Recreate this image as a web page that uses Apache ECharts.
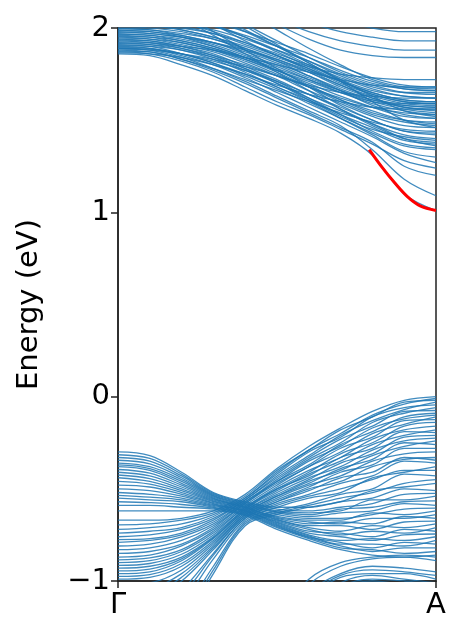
<!DOCTYPE html>
<html><head><meta charset="utf-8">
<script src="https://cdn.jsdelivr.net/npm/echarts@6/dist/echarts.min.js"></script>
<style>html,body{margin:0;padding:0;background:#fff}#c{width:453px;height:623px}</style>
</head><body><div id="c"></div>
<script>
// k-path positions (0 = Γ, 1 = A)
const kPts = [0,0.1,0.2,0.3,0.4,0.5,0.6,0.7,0.8,0.9,1.0];
const kLabels = ['Γ','A'];
const yTicks = [-1,0,1,2];

// conduction bands (eV)
const conductionBands = [
 [1.86,1.85,1.80,1.74,1.66,1.58,1.51,1.43,1.31,1.10,1.01],
 [1.87,1.86,1.82,1.76,1.68,1.60,1.53,1.45,1.37,1.28,1.24],
 [1.88,1.87,1.83,1.77,1.70,1.62,1.54,1.46,1.38,1.25,1.20],
 [1.89,1.88,1.84,1.78,1.71,1.63,1.55,1.47,1.34,1.18,1.09],
 [1.90,1.89,1.85,1.80,1.73,1.65,1.57,1.49,1.41,1.32,1.27],
 [1.91,1.90,1.86,1.81,1.74,1.67,1.59,1.51,1.43,1.36,1.34],
 [1.92,1.91,1.88,1.83,1.76,1.68,1.61,1.53,1.46,1.39,1.37],
 [1.93,1.92,1.89,1.84,1.77,1.70,1.62,1.55,1.48,1.42,1.40],
 [1.94,1.93,1.90,1.86,1.79,1.72,1.64,1.57,1.50,1.44,1.43],
 [1.95,1.94,1.91,1.87,1.81,1.74,1.66,1.59,1.52,1.47,1.46],
 [1.96,1.95,1.92,1.88,1.82,1.75,1.68,1.61,1.55,1.50,1.48],
 [1.97,1.96,1.94,1.90,1.84,1.77,1.70,1.63,1.57,1.52,1.51],
 [1.98,1.97,1.95,1.91,1.85,1.79,1.72,1.65,1.59,1.55,1.53],
 [1.99,1.98,1.96,1.92,1.87,1.81,1.74,1.67,1.61,1.57,1.55],
 [2.00,1.99,1.97,1.94,1.88,1.82,1.76,1.69,1.63,1.59,1.58],
 [2.02,2.01,1.99,1.95,1.90,1.84,1.78,1.71,1.65,1.61,1.60],
 [2.04,2.03,2.00,1.97,1.92,1.86,1.80,1.73,1.67,1.63,1.62],
 [2.06,2.05,2.02,1.99,1.94,1.88,1.82,1.75,1.69,1.65,1.64],
 [2.08,2.07,2.04,2.01,1.96,1.90,1.84,1.77,1.71,1.67,1.66],
 [2.10,2.09,2.06,2.03,1.98,1.92,1.86,1.79,1.73,1.69,1.68],
 [1.865,1.86,1.84,1.80,1.75,1.69,1.64,1.60,1.57,1.56,1.56],
 [1.885,1.88,1.86,1.83,1.79,1.74,1.69,1.65,1.63,1.62,1.62],
 [2.15,2.12,2.05,1.96,1.86,1.76,1.66,1.56,1.47,1.40,1.38],
 [2.20,2.16,2.08,1.98,1.88,1.78,1.68,1.58,1.50,1.44,1.42],
 [1.925,1.92,1.90,1.88,1.84,1.80,1.76,1.72,1.69,1.68,1.68],
 [2.25,2.22,2.16,2.08,1.99,1.90,1.81,1.72,1.63,1.55,1.52],
 [2.30,2.27,2.20,2.11,2.01,1.91,1.81,1.71,1.60,1.50,1.46],
 [1.975,1.97,1.95,1.92,1.88,1.83,1.77,1.71,1.65,1.61,1.60],
 [2.40,2.38,2.33,2.26,2.18,2.10,2.03,1.98,1.95,1.93,1.93],
 [2.35,2.33,2.28,2.21,2.13,2.05,1.98,1.93,1.90,1.88,1.88],
 [2.32,2.30,2.25,2.18,2.10,2.02,1.94,1.88,1.85,1.84,1.84],
 [2.50,2.48,2.43,2.36,2.27,2.18,2.10,2.04,2.00,1.98,1.98],
 [2.18,2.16,2.10,2.02,1.93,1.85,1.79,1.75,1.73,1.72,1.72],
 [1.875,1.87,1.83,1.78,1.72,1.66,1.60,1.54,1.49,1.45,1.44],
 [1.895,1.89,1.86,1.82,1.77,1.71,1.64,1.56,1.48,1.40,1.36],
 [1.905,1.90,1.88,1.84,1.78,1.71,1.62,1.53,1.44,1.37,1.35],
 [1.915,1.91,1.89,1.85,1.80,1.74,1.68,1.62,1.57,1.54,1.53],
 [1.935,1.93,1.90,1.85,1.78,1.70,1.61,1.52,1.45,1.41,1.39],
 [1.945,1.94,1.92,1.88,1.83,1.77,1.71,1.65,1.60,1.58,1.57],
 [1.955,1.95,1.93,1.89,1.83,1.76,1.68,1.60,1.53,1.49,1.47],
 [1.965,1.96,1.93,1.89,1.84,1.78,1.72,1.66,1.61,1.59,1.59],
 [1.985,1.98,1.95,1.90,1.84,1.77,1.69,1.61,1.54,1.50,1.49],
 [1.995,1.99,1.96,1.92,1.86,1.80,1.73,1.66,1.60,1.56,1.54],
 [2.01,2.00,1.98,1.94,1.89,1.83,1.76,1.68,1.62,1.58,1.57],
 [2.03,2.02,1.99,1.95,1.89,1.82,1.74,1.66,1.58,1.53,1.51],
 [2.05,2.04,2.01,1.97,1.91,1.85,1.78,1.70,1.64,1.60,1.59],
 [2.07,2.06,2.03,1.98,1.92,1.85,1.77,1.69,1.62,1.57,1.56],
 [2.12,2.10,2.06,2.01,1.95,1.88,1.80,1.72,1.66,1.63,1.62],
 [2.14,2.12,2.08,2.02,1.95,1.87,1.79,1.71,1.64,1.60,1.59],
 [2.22,2.19,2.13,2.06,1.98,1.90,1.82,1.74,1.68,1.65,1.65],
 [2.28,2.25,2.19,2.11,2.02,1.93,1.84,1.76,1.70,1.67,1.66],
 [2.38,2.35,2.28,2.19,2.09,1.99,1.89,1.80,1.72,1.68,1.67],
 [1.89,1.885,1.86,1.81,1.75,1.68,1.60,1.51,1.42,1.33,1.30]
];

// valence bands rising from Γ towards A
const risingBands = [
 [-0.67,-0.67,-0.66,-0.62,-0.53,-0.39,-0.27,-0.17,-0.08,-0.02,0.00],
 [-0.72,-0.71,-0.69,-0.64,-0.55,-0.41,-0.29,-0.20,-0.10,-0.04,-0.01],
 [-0.76,-0.75,-0.72,-0.66,-0.56,-0.43,-0.32,-0.21,-0.13,-0.07,-0.03],
 [-0.79,-0.78,-0.75,-0.68,-0.57,-0.45,-0.34,-0.25,-0.14,-0.09,-0.06],
 [-0.83,-0.82,-0.78,-0.70,-0.58,-0.46,-0.37,-0.26,-0.19,-0.11,-0.09],
 [-0.87,-0.86,-0.81,-0.72,-0.59,-0.48,-0.38,-0.30,-0.20,-0.15,-0.11],
 [-0.90,-0.89,-0.84,-0.74,-0.60,-0.50,-0.41,-0.31,-0.25,-0.16,-0.14],
 [-0.93,-0.92,-0.87,-0.76,-0.61,-0.51,-0.42,-0.35,-0.26,-0.21,-0.18],
 [-0.96,-0.95,-0.89,-0.77,-0.62,-0.53,-0.45,-0.36,-0.31,-0.22,-0.21],
 [-0.99,-0.98,-0.92,-0.79,-0.63,-0.54,-0.46,-0.40,-0.32,-0.27,-0.24],
 [-1.05,-1.04,-0.96,-0.81,-0.64,-0.56,-0.49,-0.41,-0.37,-0.28,-0.28],
 [-1.12,-1.10,-1.00,-0.83,-0.65,-0.57,-0.50,-0.46,-0.38,-0.34,-0.33],
 [-1.20,-1.17,-1.05,-0.85,-0.66,-0.58,-0.53,-0.47,-0.43,-0.35,-0.36],
 [-1.30,-1.26,-1.12,-0.88,-0.67,-0.60,-0.55,-0.52,-0.44,-0.41,-0.38],
 [-1.40,-1.35,-1.18,-0.92,-0.68,-0.62,-0.58,-0.53,-0.50,-0.42,-0.43],
 [-1.50,-1.44,-1.25,-0.96,-0.70,-0.64,-0.60,-0.57,-0.51,-0.49,-0.47],
 [-0.695,-0.69,-0.67,-0.63,-0.54,-0.40,-0.29,-0.18,-0.11,-0.03,-0.02],
 [-0.74,-0.73,-0.71,-0.65,-0.55,-0.42,-0.30,-0.22,-0.11,-0.06,-0.045],
 [-0.775,-0.77,-0.74,-0.67,-0.56,-0.44,-0.33,-0.23,-0.16,-0.08,-0.075],
 [-0.81,-0.80,-0.76,-0.69,-0.57,-0.46,-0.35,-0.27,-0.17,-0.12,-0.10],
 [-0.85,-0.84,-0.80,-0.71,-0.58,-0.47,-0.38,-0.28,-0.22,-0.13,-0.125],
 [-0.885,-0.875,-0.83,-0.73,-0.60,-0.49,-0.40,-0.33,-0.23,-0.18,-0.16],
 [-0.915,-0.905,-0.855,-0.75,-0.61,-0.50,-0.43,-0.33,-0.28,-0.19,-0.195],
 [-0.945,-0.935,-0.88,-0.765,-0.62,-0.52,-0.44,-0.38,-0.29,-0.24,-0.225],
 [-0.975,-0.965,-0.905,-0.78,-0.63,-0.54,-0.47,-0.39,-0.34,-0.25,-0.26],
 [-1.02,-1.01,-0.94,-0.80,-0.64,-0.55,-0.48,-0.43,-0.35,-0.31,-0.30],
 [-1.08,-1.07,-0.98,-0.82,-0.65,-0.57,-0.51,-0.44,-0.41,-0.33,-0.345],
 [-1.25,-1.21,-1.08,-0.86,-0.66,-0.59,-0.54,-0.50,-0.45,-0.40,-0.40],
 [-1.45,-1.40,-1.22,-0.94,-0.69,-0.63,-0.59,-0.55,-0.52,-0.47,-0.45]
];

// valence bands descending from Γ towards the crossing
const descendingBands = [
 [-0.30,-0.32,-0.41,-0.52,-0.57,-0.60,-0.60,-0.57,-0.55,-0.50,-0.51],
 [-0.33,-0.35,-0.43,-0.53,-0.58,-0.62,-0.63,-0.62,-0.56,-0.56,-0.54],
 [-0.36,-0.38,-0.45,-0.54,-0.59,-0.63,-0.65,-0.63,-0.62,-0.58,-0.59],
 [-0.38,-0.40,-0.47,-0.55,-0.60,-0.65,-0.67,-0.67,-0.63,-0.64,-0.62],
 [-0.41,-0.43,-0.49,-0.56,-0.60,-0.66,-0.69,-0.68,-0.69,-0.65,-0.66],
 [-0.44,-0.46,-0.51,-0.57,-0.61,-0.67,-0.71,-0.73,-0.70,-0.71,-0.69],
 [-0.48,-0.49,-0.53,-0.58,-0.62,-0.68,-0.73,-0.74,-0.76,-0.72,-0.73],
 [-0.52,-0.53,-0.55,-0.59,-0.62,-0.69,-0.75,-0.78,-0.77,-0.78,-0.76],
 [-0.55,-0.56,-0.57,-0.60,-0.63,-0.70,-0.76,-0.79,-0.82,-0.79,-0.80],
 [-0.59,-0.59,-0.60,-0.61,-0.64,-0.71,-0.77,-0.82,-0.83,-0.85,-0.84],
 [-0.315,-0.335,-0.42,-0.525,-0.575,-0.61,-0.62,-0.60,-0.58,-0.53,-0.525],
 [-0.345,-0.365,-0.44,-0.535,-0.585,-0.625,-0.64,-0.61,-0.60,-0.57,-0.565],
 [-0.37,-0.39,-0.46,-0.545,-0.595,-0.64,-0.66,-0.66,-0.64,-0.61,-0.605],
 [-0.395,-0.415,-0.48,-0.555,-0.60,-0.655,-0.68,-0.69,-0.66,-0.66,-0.64],
 [-0.425,-0.445,-0.50,-0.565,-0.605,-0.665,-0.70,-0.70,-0.72,-0.68,-0.675],
 [-0.46,-0.475,-0.52,-0.575,-0.615,-0.675,-0.72,-0.75,-0.73,-0.74,-0.71],
 [-0.50,-0.51,-0.54,-0.585,-0.62,-0.685,-0.74,-0.76,-0.78,-0.75,-0.745],
 [-0.535,-0.545,-0.56,-0.595,-0.625,-0.695,-0.755,-0.80,-0.80,-0.81,-0.78],
 [-0.57,-0.575,-0.585,-0.605,-0.635,-0.705,-0.765,-0.81,-0.84,-0.82,-0.82],
 [-0.62,-0.62,-0.62,-0.62,-0.645,-0.72,-0.78,-0.83,-0.86,-0.87,-0.86]
];

// deeper valence bands entering near A
const lowerBands = [
 [null,null,null,null,null,-1.25,-1.02,-0.92,-0.88,-0.87,-0.89],
 [null,null,null,null,null,-1.28,-1.06,-0.96,-0.92,-0.93,-0.95],
 [null,null,null,null,null,-1.32,-1.10,-0.98,-0.96,-0.96,-0.99],
 [null,null,null,null,null,-1.36,-1.14,-1.01,-0.97,-0.99,-1.01],
 [null,null,null,null,null,-1.40,-1.18,-1.04,-1.00,-1.02,-1.04],
 [null,null,null,null,null,-1.22,-0.99,-0.90,-0.87,-0.86,-0.87],
 [null,null,null,null,null,-1.30,-1.08,-0.97,-0.94,-0.95,-0.97],
 [null,null,null,null,null,-1.38,-1.16,-1.03,-0.99,-1.00,-1.02]
];

// highlighted lowest conduction band segment
const redK = [0.79,0.83,0.87,0.91,0.95,1.0];
const redE = [1.34,1.245,1.16,1.085,1.035,1.01];

const chart = echarts.init(document.getElementById('c'), null, {renderer:'canvas'});
const FONT = 'DejaVu Sans';
const series = [];
[...conductionBands, ...risingBands, ...descendingBands, ...lowerBands].forEach(b => {
  series.push({
    type:'line', data: kPts.map((k,i)=>[k,b[i]]), smooth:0.35, showSymbol:false,
    silent:true, animation:false, clip:true,
    lineStyle:{color:'#1f77b4', width:1.3, opacity:0.85}
  });
});
series.push({
  type:'line', data: redK.map((k,i)=>[k,redE[i]]), smooth:0.35, showSymbol:false,
  silent:true, animation:false, clip:true, z:5,
  lineStyle:{color:'#ff0000', width:3}
});

chart.setOption({
  backgroundColor:'#fff',
  animation:false,
  grid:{left:118, right:17, top:28, bottom:42, containLabel:false,
        show:true, borderColor:'#222', borderWidth:1.5, backgroundColor:'transparent'},
  xAxis:{type:'value', min:0, max:1, interval:1,
    axisLine:{lineStyle:{color:'#222', width:1.5}, onZero:false},
    axisTick:{show:true, length:7, lineStyle:{color:'#222', width:1.5}},
    axisLabel:{fontFamily:FONT, fontSize:29, color:'#000', margin:10,
      formatter:v => v===0 ? kLabels[0] : (v===1 ? kLabels[1] : '')},
    splitLine:{show:false}
  },
  yAxis:{type:'value', min:yTicks[0], max:yTicks[yTicks.length-1], interval:1,
    name:'Energy (eV)', nameLocation:'middle', nameGap:74,
    nameTextStyle:{fontFamily:FONT, fontSize:29, color:'#000'},
    axisLine:{show:true, lineStyle:{color:'#222', width:1.5}, onZero:false},
    axisTick:{show:true, length:7, lineStyle:{color:'#222', width:1.5}},
    axisLabel:{fontFamily:FONT, fontSize:29, color:'#000', margin:8,
      formatter:v => (v<0 ? '\u2212'+Math.abs(v) : String(v))},
    splitLine:{show:false}
  },
  series: series
});
</script></body></html>
